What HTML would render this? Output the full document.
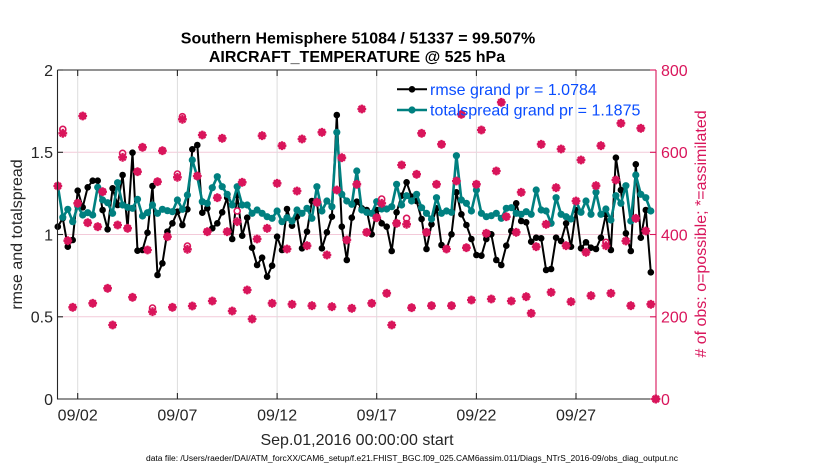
<!DOCTYPE html>
<html><head><meta charset="utf-8"><style>
html,body{margin:0;padding:0;background:#fff;}
svg{display:block;font-family:"Liberation Sans",Arial,sans-serif;}
</style></head><body>
<svg width="830" height="470" viewBox="0 0 830 470" xmlns="http://www.w3.org/2000/svg">
<defs>
<marker id="mb" markerUnits="userSpaceOnUse" markerWidth="10" markerHeight="10" refX="5" refY="5" overflow="visible"><circle cx="5" cy="5" r="3.3" fill="#000"/></marker>
<marker id="mt" markerUnits="userSpaceOnUse" markerWidth="10" markerHeight="10" refX="5" refY="5" overflow="visible"><circle cx="5" cy="5" r="3.6" fill="#008080"/></marker>
<marker id="mo" markerUnits="userSpaceOnUse" markerWidth="10" markerHeight="10" refX="5" refY="5" overflow="visible"><circle cx="5" cy="5" r="3" fill="#fff" stroke="#d9155b" stroke-width="1.6"/></marker>
<marker id="ma" markerUnits="userSpaceOnUse" markerWidth="10" markerHeight="10" refX="5" refY="5" overflow="visible"><path d="M0.6,5H9.4M5,0.6V9.4M1.9,1.9L8.1,8.1M1.9,8.1L8.1,1.9" stroke="#d9155b" stroke-width="2.3" fill="none"/><path d="M5,1.4L8.6,5L5,8.6L1.4,5Z" fill="#d9155b"/></marker>
</defs>

<!-- grid -->
<g stroke="#f3cad9" stroke-width="1">
<line x1="58" y1="152.3" x2="656" y2="152.3"/>
<line x1="58" y1="234.5" x2="656" y2="234.5"/>
<line x1="58" y1="316.8" x2="656" y2="316.8"/>
</g>
<g stroke="#dddddd" stroke-width="1">
<line x1="77.7" y1="70" x2="77.7" y2="399"/>
<line x1="177.4" y1="70" x2="177.4" y2="399"/>
<line x1="277.1" y1="70" x2="277.1" y2="399"/>
<line x1="376.7" y1="70" x2="376.7" y2="399"/>
<line x1="476.4" y1="70" x2="476.4" y2="399"/>
<line x1="576.0" y1="70" x2="576.0" y2="399"/>
</g>

<!-- rmse -->
<polyline fill="none" stroke="#000" stroke-width="2" stroke-linejoin="round" marker-start="url(#mb)" marker-mid="url(#mb)" marker-end="url(#mb)" points="57.8,226.7 62.8,218.3 67.8,246.7 72.7,240 77.7,190.7 82.7,207.3 87.7,187.3 92.7,180.7 97.7,180.7 102.6,210 107.6,229.3 112.6,188.3 117.6,205 122.6,175 127.6,228.3 132.5,152.7 137.5,250.7 142.5,250 147.5,232.7 152.5,186 157.5,275 162.4,263.3 167.4,231.7 172.4,223.3 177.4,211.7 182.4,225 187.4,209.3 192.3,149.3 197.3,145 202.3,212.7 207.3,208.3 212.3,228.3 217.3,223.3 222.2,212.3 227.2,197.7 232.2,239 237.2,195 242.2,235.7 247.2,217.7 252.1,247.7 257.1,265 262.1,257.7 267.1,276.7 272.1,265.7 277.1,236.7 282.0,250 287.0,209 292.0,225.7 297.0,216.7 302.0,248.3 307.0,231.7 311.9,201 316.9,201 321.9,248.3 326.9,232.3 331.9,216.7 336.8,115 341.8,226.7 346.8,260 351.8,217.7 356.8,201.7 361.8,208.3 366.7,210 371.7,234.3 376.7,210 381.7,223.3 386.7,226.7 391.7,251 396.6,212.3 401.6,195.7 406.6,182.3 411.6,196.7 416.6,201 421.6,219 426.5,249 431.5,224.3 436.5,208.3 441.5,245 446.5,249 451.5,234.3 456.4,192.3 461.4,214.3 466.4,225 471.4,239 476.4,255 481.4,255.7 486.3,239 491.3,234.3 496.3,260 501.3,265 506.3,245.7 511.3,231 516.2,203.3 521.2,221 526.2,222.3 531.2,241.7 536.2,237.7 541.2,238.3 546.1,270 551.1,269 556.1,237.7 561.1,241 566.1,223.3 571.0,246.7 576.0,210 581.0,248.3 586.0,242.3 591.0,247.7 596.0,249 600.9,237.7 605.9,214.3 610.9,250 615.9,157.7 620.9,190 625.9,233.3 630.8,251 635.8,164.3 640.8,237.7 645.8,210 650.8,272.3"/>

<!-- totalspread -->
<polyline fill="none" stroke="#008080" stroke-width="2.6" stroke-linejoin="round" marker-start="url(#mt)" marker-mid="url(#mt)" marker-end="url(#mt)" points="57.8,185.7 62.8,217.3 67.8,209.3 72.7,221.7 77.7,206 82.7,215 87.7,212.7 92.7,215 97.7,187.3 102.6,200 107.6,202.7 112.6,213.3 117.6,182.7 122.6,205 127.6,207.3 132.5,208.3 137.5,199.3 142.5,216 147.5,212.7 152.5,205 157.5,213.3 162.4,209.3 167.4,210.7 172.4,211.7 177.4,200 182.4,209.3 187.4,195 192.3,160 197.3,176.7 202.3,201.7 207.3,203.3 212.3,187.7 217.3,176.7 222.2,186.7 227.2,194.3 232.2,205 237.2,186.7 242.2,205 247.2,205 252.1,213.3 257.1,210 262.1,213.3 267.1,216.7 272.1,218.3 277.1,211 282.0,221.7 287.0,217.7 292.0,221 297.0,210 302.0,213.3 307.0,208.3 311.9,218.3 316.9,186.7 321.9,211 326.9,201 331.9,206.7 336.8,132.3 341.8,194.3 346.8,201 351.8,204.3 356.8,171 361.8,210 366.7,212.3 371.7,213.3 376.7,201.7 381.7,209 386.7,209 391.7,206.7 396.6,184.3 401.6,205 406.6,195.7 411.6,201 416.6,194.3 421.6,207.7 426.5,213.3 431.5,219 436.5,197.7 441.5,213.3 446.5,211 451.5,212.3 456.4,155.7 461.4,200 466.4,203.3 471.4,211 476.4,190 481.4,213.3 486.3,216.7 491.3,215.7 496.3,213.3 501.3,218.3 506.3,208.3 511.3,207.7 516.2,213.3 521.2,214.3 526.2,211.7 531.2,214.3 536.2,190 541.2,210 546.1,211 551.1,223.3 556.1,197.7 561.1,214.3 566.1,216.7 571.0,219 576.0,201 581.0,212.3 586.0,201 591.0,214.3 596.0,192.3 600.9,214.3 605.9,209 610.9,220 615.9,195.7 620.9,203.3 625.9,185.7 630.8,221 635.8,175 640.8,194.3 645.8,197.7 650.8,211"/>

<!-- obs possible -->
<polyline fill="none" stroke="none" marker-start="url(#mo)" marker-mid="url(#mo)" marker-end="url(#mo)" points="57.8,186 62.8,129.3 67.8,240.7 72.7,307.3 77.7,203.3 82.7,116 87.7,222.7 92.7,303.3 97.7,226.7 102.6,191.7 107.6,288.3 112.6,325 117.6,225 122.6,153.3 127.6,228.3 132.5,297.3 137.5,171.7 142.5,147.3 147.5,250 152.5,308 157.5,181.7 162.4,150.7 167.4,236.7 172.4,307.3 177.4,174 182.4,116.7 187.4,246 192.3,306 197.3,176 202.3,135 207.3,231.7 212.3,301 217.3,197.7 222.2,138.3 227.2,231.7 232.2,311 237.2,211 242.2,182.3 247.2,290 252.1,319 257.1,239 262.1,135.7 267.1,228.3 272.1,303.3 277.1,183.3 282.0,145.7 287.0,249 292.0,304.3 297.0,191 302.0,139 307.0,245.7 311.9,305.7 316.9,202.3 321.9,132.3 326.9,255 331.9,306.7 336.8,190 341.8,157.7 346.8,240 351.8,308.3 356.8,184.3 361.8,109 366.7,232.3 371.7,303.3 376.7,217.7 381.7,199 386.7,293.3 391.7,325 396.6,223.3 401.6,165 406.6,218.3 411.6,307.7 416.6,174.3 421.6,133.3 426.5,232.3 431.5,305.7 436.5,184.3 441.5,144.3 446.5,249 451.5,305.7 456.4,181 461.4,114.3 466.4,247.7 471.4,300 476.4,184.3 481.4,130 486.3,233.3 491.3,299 496.3,171 501.3,102.3 506.3,216.7 511.3,301 516.2,232.3 521.2,192.3 526.2,296.7 531.2,313.3 536.2,246.7 541.2,144.3 546.1,224.3 551.1,292.3 556.1,187.7 561.1,149 566.1,245.7 571.0,301.7 576.0,201 581.0,160 586.0,252.3 591.0,295.7 596.0,185.7 600.9,145.7 605.9,242.3 610.9,293.3 615.9,180 620.9,123.3 625.9,241 630.8,305.7 635.8,218.3 640.8,128.3 645.8,231 650.8,304.3 655.8,399"/>

<!-- obs assimilated -->
<polyline fill="none" stroke="none" marker-start="url(#ma)" marker-mid="url(#ma)" marker-end="url(#ma)" points="57.8,186 62.8,133.3 67.8,240.7 72.7,307.3 77.7,203.3 82.7,116 87.7,222.7 92.7,303.3 97.7,226.7 102.6,191.7 107.6,288.3 112.6,325 117.6,225 122.6,157.3 127.6,228.3 132.5,297.3 137.5,171.7 142.5,147.3 147.5,250 152.5,311.7 157.5,181.7 162.4,150.7 167.4,236.7 172.4,307.3 177.4,177.3 182.4,119.3 187.4,249.3 192.3,306 197.3,176 202.3,135 207.3,231.7 212.3,301 217.3,197.7 222.2,138.3 227.2,231.7 232.2,311 237.2,221.7 242.2,182.3 247.2,290 252.1,319 257.1,239 262.1,135.7 267.1,228.3 272.1,303.3 277.1,183.3 282.0,145.7 287.0,249 292.0,304.3 297.0,191 302.0,139 307.0,245.7 311.9,305.7 316.9,202.3 321.9,132.3 326.9,255 331.9,306.7 336.8,190 341.8,157.7 346.8,240 351.8,308.3 356.8,184.3 361.8,109 366.7,232.3 371.7,303.3 376.7,217.7 381.7,203.3 386.7,293.3 391.7,325 396.6,223.3 401.6,165 406.6,224.3 411.6,307.7 416.6,174.3 421.6,133.3 426.5,232.3 431.5,305.7 436.5,184.3 441.5,144.3 446.5,249 451.5,305.7 456.4,181 461.4,114.3 466.4,247.7 471.4,300 476.4,184.3 481.4,130 486.3,233.3 491.3,299 496.3,171 501.3,102.3 506.3,216.7 511.3,301 516.2,232.3 521.2,192.3 526.2,296.7 531.2,313.3 536.2,246.7 541.2,144.3 546.1,224.3 551.1,292.3 556.1,187.7 561.1,149 566.1,245.7 571.0,301.7 576.0,201 581.0,160 586.0,252.3 591.0,295.7 596.0,185.7 600.9,145.7 605.9,245.7 610.9,293.3 615.9,180 620.9,123.3 625.9,241 630.8,305.7 635.8,218.3 640.8,128.3 645.8,231 650.8,304.3 655.8,399"/>

<!-- axes -->
<g stroke="#262626" stroke-width="1.1" fill="none">
<line x1="57.5" y1="70" x2="57.5" y2="399.5"/>
<line x1="57.5" y1="70" x2="656" y2="70"/>
<line x1="57.5" y1="399" x2="656" y2="399"/>
<line x1="57.5" y1="70" x2="63" y2="70"/>
<line x1="57.5" y1="152.3" x2="63" y2="152.3"/>
<line x1="57.5" y1="234.5" x2="63" y2="234.5"/>
<line x1="57.5" y1="316.8" x2="63" y2="316.8"/>
<line x1="77.7" y1="399" x2="77.7" y2="393"/>
<line x1="177.4" y1="399" x2="177.4" y2="393"/>
<line x1="277.1" y1="399" x2="277.1" y2="393"/>
<line x1="376.7" y1="399" x2="376.7" y2="393"/>
<line x1="476.4" y1="399" x2="476.4" y2="393"/>
<line x1="576.0" y1="399" x2="576.0" y2="393"/>
<line x1="77.7" y1="70" x2="77.7" y2="76"/>
<line x1="177.4" y1="70" x2="177.4" y2="76"/>
<line x1="277.1" y1="70" x2="277.1" y2="76"/>
<line x1="376.7" y1="70" x2="376.7" y2="76"/>
<line x1="476.4" y1="70" x2="476.4" y2="76"/>
<line x1="576.0" y1="70" x2="576.0" y2="76"/>
</g>
<g stroke="#d9155b" stroke-width="1.1">
<line x1="656" y1="70" x2="656" y2="399.5"/>
<line x1="656" y1="70" x2="650" y2="70"/>
<line x1="656" y1="152.3" x2="650" y2="152.3"/>
<line x1="656" y1="234.5" x2="650" y2="234.5"/>
<line x1="656" y1="316.8" x2="650" y2="316.8"/>
<line x1="656" y1="399" x2="650" y2="399"/>
</g>
<polyline fill="none" stroke="none" marker-start="url(#ma)" marker-end="url(#ma)" points="655.8,399 655.8,399"/>

<!-- tick labels -->
<g font-size="16" fill="#262626" text-anchor="end">
<text x="53" y="75.8">2</text>
<text x="53" y="158">1.5</text>
<text x="53" y="240.3">1</text>
<text x="53" y="322.5">0.5</text>
<text x="53" y="404.8">0</text>
</g>
<g font-size="16" fill="#d9155b">
<text x="661" y="75.8">800</text>
<text x="661" y="158">600</text>
<text x="661" y="240.3">400</text>
<text x="661" y="322.5">200</text>
<text x="661" y="404.8">0</text>
</g>
<g font-size="16" fill="#262626" text-anchor="middle">
<text x="77.7" y="420.5">09/02</text>
<text x="177.4" y="420.5">09/07</text>
<text x="277.1" y="420.5">09/12</text>
<text x="376.7" y="420.5">09/17</text>
<text x="476.4" y="420.5">09/22</text>
<text x="576.0" y="420.5">09/27</text>
<text x="357" y="445">Sep.01,2016 00:00:00 start</text>
</g>
<text x="412" y="461" font-size="8" fill="#000" text-anchor="middle" textLength="532" lengthAdjust="spacingAndGlyphs">data file: /Users/raeder/DAI/ATM_forcXX/CAM6_setup/f.e21.FHIST_BGC.f09_025.CAM6assim.011/Diags_NTrS_2016-09/obs_diag_output.nc</text>

<!-- axis labels -->
<text transform="translate(22,234.5) rotate(-90)" font-size="16" fill="#262626" text-anchor="middle">rmse and totalspread</text>
<text transform="translate(706,234) rotate(-90)" font-size="16" fill="#d9155b" text-anchor="middle"># of obs: o=possible; *=assimilated</text>

<!-- title -->
<g font-size="16" font-weight="bold" fill="#000" text-anchor="middle">
<text x="358" y="43.5">Southern Hemisphere 51084 / 51337 = 99.507%</text>
<text x="357" y="62">AIRCRAFT_TEMPERATURE @ 525 hPa</text>
</g>

<!-- legend -->
<line x1="397" y1="89.3" x2="427" y2="89.3" stroke="#000" stroke-width="2"/>
<circle cx="412" cy="89.3" r="3.3" fill="#000"/>
<line x1="397" y1="110" x2="427" y2="110" stroke="#008080" stroke-width="2.6"/>
<circle cx="412" cy="110" r="3.6" fill="#008080"/>
<g font-size="16" fill="#0a4dff">
<text x="430" y="95">rmse grand pr = 1.0784</text>
<text x="430" y="115.7">totalspread grand pr = 1.1875</text>
</g>
</svg>
</body></html>
